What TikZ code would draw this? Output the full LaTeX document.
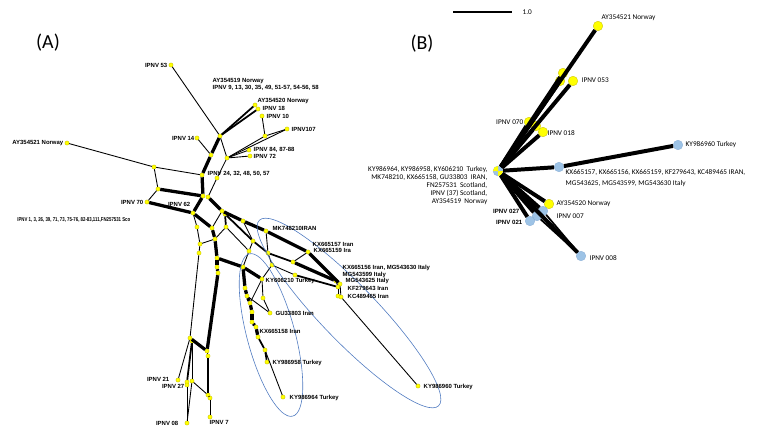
\documentclass[tikz,border=0pt]{standalone}
\usepackage{fontspec}
\setmainfont{Carlito}
\newfontfamily\tagfont{Liberation Sans}
\usepackage{tikz}
\usetikzlibrary{shapes,calc}
\definecolor{dotYellow}{HTML}{FFFF00}
\definecolor{dotRim}{HTML}{B8B000}
\definecolor{dotBlue}{HTML}{9DC3E6}
\definecolor{blueRim}{HTML}{7FA6CF}
\definecolor{ringBlue}{HTML}{4F7AC0}
\tikzstyle{tsDot} = [
    circle,
    fill=dotYellow,
    draw=dotRim,
    line width=0.2pt,
    inner sep=0pt,
    minimum size=0.13cm]
\tikzstyle{tsBigDot} = [
    tsDot,
    minimum size=0.29cm]
\tikzstyle{tsBlueDot} = [
    tsBigDot,
    fill=dotBlue,
    draw=blueRim]
\tikzstyle{tsTag} = [
    text=black,
    inner sep=0.4pt,
    font=\tagfont\bfseries\fontsize{5.1}{5.8}\selectfont]
\tikzstyle{tsTagB} = [
    text=black,
    inner sep=0.4pt,
    font=\fontsize{6.2}{7}\selectfont]
\tikzstyle{tsThin} = [black, line width=0.75pt]
\tikzstyle{tsMid} = [black, line width=1.5pt]
\tikzstyle{tsThick} = [black, line width=2.8pt]
\tikzstyle{tsBond} = [black, line width=3.4pt]
\tikzstyle{tsRing} = [draw=ringBlue, line width=0.5pt]

\begin{document}
\begin{tikzpicture}[x=0.03cm, y=-0.03cm]

        \useasboundingbox (0,0) rectangle (771,434);

        \node[font=\fontsize{17}{19}\selectfont] (tA) at (48,43) {(A)};
        \node[font=\fontsize{17}{19}\selectfont] (tB) at (422,44) {(B)};

        % --- panel A: network ---
        \node[tsDot] (a53) at (171,65) {};
        \node[tsDot] (aH1) at (220,136) {};
        \node[tsDot] (a520) at (255,105) {};
        \node[tsDot] (a18) at (258,109) {};
        \node[tsDot] (a10) at (262,116) {};
        \node[tsDot] (a107) at (287,129) {};
        \node[tsDot] (aJ10) at (265,136) {};
        \node[tsDot] (aJ2) at (227,158) {};
        \node[tsDot] (a84) at (249,150) {};
        \node[tsDot] (a72) at (250,156) {};
        \node[tsDot] (a14) at (197,138) {};
        \node[tsDot] (aA1) at (211,155) {};
        \node[tsDot] (a24) at (202,175) {};
        \node[tsDot] (a24b) at (217,178) {};
        \node[tsDot] (a521) at (67,143) {};
        \node[tsDot] (aL1) at (154,167) {};
        \node[tsDot] (aL2) at (158,189) {};
        \node[tsDot] (a70) at (147,202) {};
        \node[tsDot] (aC1) at (203,196) {};
        \node[tsDot] (aC2) at (208,197) {};
        \node[tsDot] (a62) at (193,213) {};
        \node[tsDot] (aD1) at (222,211) {};
        \node[tsDot] (aD2) at (225,214) {};
        \node[tsDot] (aE1) at (197,227) {};
        \node[tsDot] (aE2) at (212,228) {};
        \node[tsDot] (aE3) at (226,227) {};
        \node[tsDot] (aF1) at (243,221) {};
        \node[tsDot] (aMK) at (266,231) {};
        \node[tsDot] (aG1) at (200,244) {};
        \node[tsDot] (aG2) at (215,239) {};
        \node[tsDot] (aG3) at (199,253) {};
        \node[tsDot] (aG4) at (217,258) {};
        \node[tsDot] (aG5) at (217,267) {};
        \node[tsDot] (aG6) at (218,273) {};
        \node[tsDot] (aH2) at (253,241) {};
        \node[tsDot] (aH3) at (249,251) {};
        \node[tsDot] (aH4) at (268,253) {};
        \node[tsDot] (aH5) at (272,265) {};
        \node[tsDot] (aH6) at (243,267) {};
        \node[tsDot] (aK59) at (308,252) {};
        \node[tsDot] (aI1) at (293,262) {};
        \node[tsDot] (aI2) at (295,275) {};
        \node[tsDot] (aK06) at (262,279) {};
        \node[tsDot] (aJ1) at (245,288) {};
        \node[tsDot] (aJ3) at (247,296) {};
        \node[tsDot] (aJ4) at (263,298) {};
        \node[tsDot] (aGU) at (270,313) {};
        \node[tsDot] (aM1) at (250,303) {};
        \node[tsDot] (aM2) at (252,312) {};
        \node[tsDot] (aM3) at (252,322) {};
        \node[tsDot] (aK58) at (256,327) {};
        \node[tsDot] (aM5) at (258,337) {};
        \node[tsDot] (aM6) at (265,350) {};
        \node[tsDot] (aK958) at (267,362) {};
        \node[tsDot] (aK964) at (283,397) {};
        \node[tsDot] (aT1) at (336,281) {};
        \node[tsDot] (aT2) at (340,284) {};
        \node[tsDot] (aT3) at (338,287) {};
        \node[tsDot] (aKC1) at (338,296) {};
        \node[tsDot] (aKC2) at (341,297) {};
        \node[tsDot] (aK960) at (418,386) {};
        \node[tsDot] (aQ1) at (190,338) {};
        \node[tsDot] (aQ1b) at (192,341) {};
        \node[tsDot] (aQ2) at (207,351) {};
        \node[tsDot] (aQ3) at (208,356) {};
        \node[tsDot] (a21) at (178,380) {};
        \node[tsDot] (a27) at (187,382) {};
        \node[tsDot] (a27b) at (187,385) {};
        \node[tsDot] (aR) at (192,381) {};
        \node[tsDot] (aS1) at (208,395) {};
        \node[tsDot] (aS2) at (210,398) {};
        \node[tsDot] (a7) at (210,417) {};
        \node[tsDot] (a08) at (187,423) {};

        \draw[tsThin] (a53) -- (aH1);
        \draw[tsMid] (aH1) -- (a520);
        \draw[tsMid] (aH1) -- (a18);
        \draw[tsThin] (aH1) -- (aJ2);
        \draw[tsThin] (aJ2) -- (aJ10);
        \draw[tsThin] (aJ2) -- (a107);
        \draw[tsThin] (aJ10) -- (a10);
        \draw[tsThin] (aJ10) -- (a107);
        \draw[tsThin] (aJ2) -- (a84);
        \draw[tsThin] (aJ2) -- (a72);
        \draw[tsThin] (a14) -- (aA1);
        \draw[tsThick] (aH1) -- (aA1);
        \draw[tsThick] (aA1) -- (a24);
        \draw[tsThin] (aJ2) -- (a24b);
        \draw[tsThin] (a24b) -- (aC2);
        \draw[tsThick] (a24) -- (aC1);
        \draw[tsThin] (a521) -- (aL1);
        \draw[tsThin] (aL1) -- (a24);
        \draw[tsThin] (aL1) -- (aL2);
        \draw[tsThick] (aL2) -- (aC1);
        \draw[tsThin] (aL2) -- (a70);
        \draw[tsThick] (a70) -- (a62);
        \draw[tsThick] (aC1) -- (a62);
        \draw[tsThick] (aC2) -- (aD1);
        \draw[tsThick] (aD1) -- (aF1);
        \draw[tsThick] (aF1) -- (aMK);
        \draw[tsThick] (aMK) -- (aK59);
        \draw[tsThin] (a62) -- (aE1);
        \draw[tsThin] (aE1) -- (aG1);
        \draw[tsThin] (aG1) -- (aG3);
        \draw[tsThin] (aG1) -- (aG2);
        \draw[tsThick] (a62) -- (aE2);
        \draw[tsThick] (aE2) -- (aG2);
        \draw[tsThick] (aG2) -- (aG4);
        \draw[tsThick] (aG4) -- (aG5);
        \draw[tsThick] (aG5) -- (aG6);
        \draw[tsThick] (aG6) -- (aQ2);
        \draw[tsMid] (aD2) -- (aE3);
        \draw[tsThin] (aD1) -- (aE2);
        \draw[tsThin] (aE3) -- (aG2);
        \draw[tsMid] (aD2) -- (aH2);
        \draw[tsThin] (aE3) -- (aH3);
        \draw[tsThin] (aF1) -- (aH2);
        \draw[tsMid] (aH2) -- (aH4);
        \draw[tsThin] (aH2) -- (aH3);
        \draw[tsThick] (aG4) -- (aH6);
        \draw[tsThin] (aH3) -- (aH6);
        \draw[tsThin] (aMK) -- (aH4);
        \draw[tsThin] (aH4) -- (aH5);
        \draw[tsMid] (aH4) -- (aI1);
        \draw[tsThin] (aK59) -- (aI1);
        \draw[tsThick] (aI1) -- (aT1);
        \draw[tsThick] (aK59) -- (aT2);
        \draw[tsThin] (aH5) -- (aI2);
        \draw[tsMid] (aI2) -- (aT3);
        \draw[tsThin] (aH5) -- (aK06);
        \draw[tsThick] (aH6) -- (aK06);
        \draw[tsThick] (aH6) -- (aJ1);
        \draw[tsThin] (aK06) -- (aJ4);
        \draw[tsThin] (aJ4) -- (aGU);
        \draw[tsThin] (aJ3) -- (aGU);
        \draw[tsThin] (aK06) -- (aM1);
        \draw[tsThick] (aJ1) -- (aJ3);
        \draw[tsThick] (aJ3) -- (aM1);
        \draw[tsThick] (aM1) -- (aM2);
        \draw[tsThick] (aM2) -- (aM3);
        \draw[tsThick] (aM3) -- (aK58);
        \draw[tsThick] (aK58) -- (aM5);
        \draw[tsMid] (aM5) -- (aM6);
        \draw[tsMid] (aM6) -- (aK958);
        \draw[tsThin] (aM6) -- (aK964);
        \draw[tsThin] (aT1) -- (aT3);
        \draw[tsThin] (aT3) -- (aKC1);
        \draw[tsThin] (aT2) -- (aKC2);
        \draw[tsThin] (aKC2) -- (aK960);
        \draw[tsThin] (aG3) -- (aQ1);
        \draw[tsThick] (aQ1) -- (aQ2);
        \draw[tsThin] (aQ2) -- (aQ3);
        \draw[tsThin] (aQ1) -- (a21);
        \draw[tsMid] (aQ1b) -- (a27);
        \draw[tsThin] (aQ1b) -- (aR);
        \draw[tsThin] (a27b) -- (a08);
        \draw[tsThin] (aR) -- (a08);
        \draw[tsThin] (aR) -- (aS1);
        \draw[tsMid] (aQ3) -- (aS1);
        \draw[tsThin] (aS1) -- (aS2);
        \draw[tsThin] (aS2) -- (a7);

        \draw[tsRing, rotate around={-75:(271,335)}] (271,335) ellipse [x radius=84, y radius=24];
        \draw[tsRing, rotate around={-46:(349,313)}] (349,313) ellipse [x radius=129, y radius=28];

        \node[tsTag, anchor=east] (l53) at (168,65) {IPNV 53};
        \node[tsTag, anchor=west, align=left] (l519) at (212,84) {AY354519 Norway\\IPNV 9, 13, 30, 35, 49, 51-57, 54-56, 58};
        \node[tsTag, anchor=west] (l520) at (257,101) {AY354520 Norway};
        \node[tsTag, anchor=west] (l18) at (262,108) {IPNV 18};
        \node[tsTag, anchor=west] (l10) at (266,116) {IPNV 10};
        \node[tsTag, anchor=west] (l107) at (291,129) {IPNV107};
        \node[tsTag, anchor=west] (l84) at (253,150) {IPNV 84, 87-88};
        \node[tsTag, anchor=west] (l72) at (253,156) {IPNV 72};
        \node[tsTag, anchor=east] (l14) at (195,138) {IPNV 14};
        \node[tsTag, anchor=east] (l521) at (64,143) {AY354521 Norway};
        \node[tsTag, anchor=west] (l24) at (207,174) {IPNV 24, 32, 48, 50, 57};
        \node[tsTag, anchor=east] (l70) at (144,202) {IPNV 70};
        \node[tsTag, anchor=east] (l62) at (191,204) {IPNV 62};
        \node[tsTag, anchor=east, font=\tagfont\bfseries\fontsize{4.8}{5}\selectfont] (l1) at (131,220) {\scalebox{0.77}[1]{IPNV 1, 3, 26, 39, 71, 73, 75-76, 82-83,111,FN257531 Sco}};
        \node[tsTag, anchor=west] (lMK) at (272,228) {MK748210IRAN};
        \node[tsTag, anchor=west] (l57) at (312,244) {KX665157 Iran};
        \node[tsTag, anchor=west] (l59) at (313,250) {KX665159 Ira};
        \node[tsTag, anchor=west] (l56) at (342,268) {KX665156 Iran, MG543630 Italy};
        \node[tsTag, anchor=west] (l599) at (342,275) {MG543599 Italy};
        \node[tsTag, anchor=west] (l625) at (345,281) {MG543625 Italy};
        \node[tsTag, anchor=west] (lKF) at (347,288) {KF279643 Iran};
        \node[tsTag, anchor=west] (lKC) at (347,296) {KC489465 Iran};
        \node[tsTag, anchor=west] (l06) at (265,281) {KY606210 Turkey};
        \node[tsTag, anchor=west] (lGU) at (275,313) {GU33803 Iran};
        \node[tsTag, anchor=west] (l58) at (259,331) {KX665158 Iran};
        \node[tsTag, anchor=west] (l958) at (272,363) {KY986958 Turkey};
        \node[tsTag, anchor=west] (l964) at (289,398) {KY986964 Turkey};
        \node[tsTag, anchor=west] (l960) at (423,387) {KY986960 Turkey};
        \node[tsTag, anchor=east] (l21) at (170,379) {IPNV 21};
        \node[tsTag, anchor=east] (l27) at (185,386) {IPNV 27};
        \node[tsTag, anchor=east] (l08) at (179,423) {IPNV 08};
        \node[tsTag, anchor=west] (l7) at (209,422) {IPNV 7};

        % --- panel B: median-joining network ---
        \coordinate (sbL) at (453,12);
        \coordinate (sbR) at (512,12);
        \draw[line width=0.9pt] (sbL) -- (sbR);
        \node[tsTagB, anchor=west] (lScale) at (522,12) {1.0};

        \node[tsBlueDot, minimum size=0.3cm] (bHub) at (498,171) {};
        \fill[dotYellow] (bHub.center) -- ++(0:5) arc[start angle=0, end angle=90, radius=5] -- cycle;
        \fill[dotYellow] (bHub.center) -- ++(180:5) arc[start angle=180, end angle=270, radius=5] -- cycle;
        \node[tsBigDot] (b521) at (598,26) {};
        \node[tsBigDot] (b53a) at (563,73) {};
        \node[tsBigDot] (b53b) at (560,81) {};
        \node[tsBigDot] (b53c) at (573,81) {};
        \node[tsBigDot] (b70a) at (529,122) {};
        \node[tsBigDot] (b70b) at (536,126) {};
        \node[tsBigDot] (b18) at (543,132) {};
        \node[tsBlueDot] (bKX) at (559,167) {};
        \node[tsBlueDot] (b960) at (678,145) {};
        \node[tsBigDot] (b520) at (549,204) {};
        \node[tsBlueDot] (b007a) at (543,211) {};
        \node[tsBlueDot] (b007b) at (537,216) {};
        \node[tsBlueDot] (b021) at (530,221) {};
        \node[tsBlueDot] (b008) at (581,256) {};

        \draw[tsBond] (bHub) -- (b521);
        \draw[tsBond] (bHub) -- (b53a);
        \draw[tsBond] (bHub) -- (b53b);
        \draw[tsBond] (bHub) -- (b53c);
        \draw[tsBond] (bHub) -- (b70a);
        \draw[tsBond] (bHub) -- (b70b);
        \draw[tsBond] (bHub) -- (b18);
        \draw[tsBond] (bHub) -- (bKX);
        \draw[tsBond] (bKX) -- (b960);
        \draw[tsBond] (bHub) -- (b520);
        \draw[tsBond] (bHub) -- (b007a);
        \draw[tsBond] (bHub) -- (b007b);
        \draw[tsBond] (bHub) -- (b021);
        \draw[tsBond] (bHub) -- (b008);
        \draw[tsMid] (b007a) -- (b008);
        \draw[tsMid] (b007b) -- (b008);

        \node[tsTagB, anchor=south west] (m521) at (601,21) {AY354521 Norway};
        \node[tsTagB, anchor=west] (m53) at (581,80) {IPNV 053};
        \node[tsTagB, anchor=east] (m70) at (524,122) {IPNV 070};
        \node[tsTagB, anchor=west] (m18) at (547,133) {IPNV 018};
        \node[tsTagB, anchor=west] (m960) at (685,145) {KY986960 Turkey};
        \node[tsTagB, anchor=north west, align=left, font=\fontsize{6.2}{9}\selectfont] (mKX) at (565,169) {KX665157, KX665156, KX665159, KF279643, KC489465 IRAN,\\MG543625, MG543599, MG543630 Italy};
        \node[tsTagB, anchor=east, align=right, font=\fontsize{6.2}{7}\selectfont] (mHub) at (488,185.5) {KY986964, KY986958, KY606210~ Turkey,\\MK748210, KX665158, GU33803~ IRAN,\\FN257531~ Scotland,\\IPNV (37) Scotland,\\AY354519~ Norway};
        \node[tsTagB, anchor=west] (m520) at (556,204) {AY354520 Norway};
        \node[tsTagB, anchor=west] (m007) at (556,216) {IPNV 007};
        \node[tsTag, anchor=east, font=\tagfont\bfseries\fontsize{5.2}{6}\selectfont] (m027) at (520,211) {IPNV 027};
        \node[tsTag, anchor=east, font=\tagfont\bfseries\fontsize{5.2}{6}\selectfont] (m021) at (523,222) {IPNV 021};
        \node[tsTagB, anchor=west] (m008) at (589,258) {IPNV 008};

\end{tikzpicture}
\end{document}
